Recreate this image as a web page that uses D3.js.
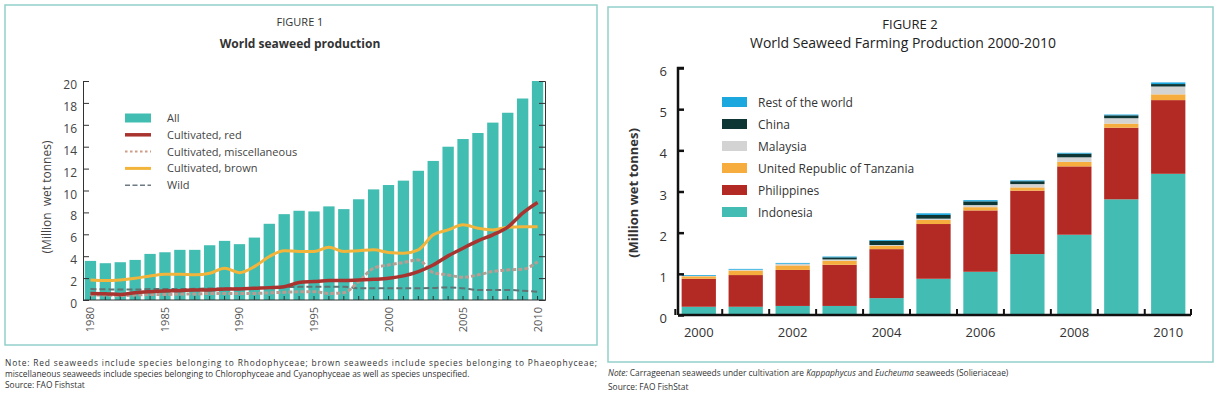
<!DOCTYPE html>
<html lang="en">
<head>
    <meta charset="UTF-8">
    <title>Seaweed production</title>
    <style>
        body { margin: 0; background: #fff; }
        svg { display: block; font-family: "Open Sans", "Noto Sans", sans-serif; }
    </style>
    <script src="https://d3js.org/d3.v7.min.js"></script>
</head>
<body>
<svg width="1219" height="397"></svg>
<script>
    // ---- Figure 1 data (million wet tonnes) ----
    const years1 = [1980, 1981, 1982, 1983, 1984, 1985, 1986, 1987, 1988, 1989,
        1990, 1991, 1992, 1993, 1994, 1995, 1996, 1997, 1998, 1999,
        2000, 2001, 2002, 2003, 2004, 2005, 2006, 2007, 2008, 2009, 2010];
    const allProd = [3.57, 3.36, 3.45, 3.66, 4.21, 4.36, 4.58, 4.58, 5.0, 5.4,
        5.1, 5.7, 6.96, 7.84, 8.15, 8.09, 8.55, 8.3, 9.2, 10.1,
        10.5, 10.9, 11.8, 12.7, 14.0, 14.7, 15.25, 16.2, 17.1, 18.4, 20.0];
    const cultRed = [0.6, 0.58, 0.5, 0.67, 0.76, 0.82, 0.85, 0.92, 0.92, 1.0,
        1.0, 1.07, 1.13, 1.22, 1.6, 1.68, 1.77, 1.77, 1.83, 1.89,
        1.98, 2.2, 2.6, 3.2, 4.03, 4.73, 5.4, 5.95, 6.65, 7.93, 8.9];
    const cultMisc = [0.45, 0.45, 0.4, 0.45, 0.5, 0.5, 0.55, 0.55, 0.6, 0.6,
        0.6, 0.6, 0.65, 0.7, 0.75, 0.76, 0.6, 0.67, 1.68, 2.9,
        3.2, 3.42, 3.66, 2.5, 2.29, 2.08, 2.29, 2.6, 2.75, 2.8, 3.5];
    const cultBrown = [1.83, 1.77, 1.83, 1.98, 2.2, 2.35, 2.35, 2.3, 2.44, 2.9,
        2.5, 3.05, 3.97, 4.5, 4.43, 4.43, 4.82, 4.43, 4.5, 4.58,
        4.34, 4.27, 4.58, 5.95, 6.4, 6.87, 6.56, 6.4, 6.65, 6.7, 6.7];
    const wild = [1.0, 0.98, 0.95, 0.95, 1.0, 1.0, 1.0, 1.02, 1.05, 1.05,
        1.08, 1.1, 1.12, 1.18, 1.2, 1.22, 1.22, 1.22, 1.07, 1.07,
        1.07, 1.07, 1.07, 1.1, 1.15, 1.07, 0.92, 0.92, 0.92, 0.85, 0.76];
    const yTicks1 = [0, 2, 4, 6, 8, 10, 12, 14, 16, 18, 20];
    const xLabels1 = [1980, 1985, 1990, 1995, 2000, 2005, 2010];

    // ---- Figure 2 data (million wet tonnes) ----
    const years2 = [2000, 2001, 2002, 2003, 2004, 2005, 2006, 2007, 2008, 2009, 2010];
    const indonesia = [0.2, 0.2, 0.22, 0.22, 0.41, 0.88, 1.05, 1.48, 1.95, 2.81, 3.43];
    const philippines = [0.68, 0.77, 0.875, 1.0, 1.19, 1.33, 1.49, 1.54, 1.66, 1.74, 1.79];
    const tanzania = [0.06, 0.11, 0.11, 0.1, 0.08, 0.1, 0.08, 0.08, 0.11, 0.1, 0.14];
    const malaysia = [0.01, 0.02, 0.04, 0.03, 0.02, 0.03, 0.05, 0.08, 0.11, 0.13, 0.19];
    const china = [0.0, 0.0, 0.0, 0.05, 0.1, 0.09, 0.09, 0.07, 0.09, 0.07, 0.06];
    const restOfWorld = [0.02, 0.02, 0.02, 0.02, 0.02, 0.04, 0.03, 0.02, 0.02, 0.02, 0.04];
    const yTicks2 = [0, 1, 2, 3, 4, 5, 6];
    const xLabels2 = [2000, 2002, 2004, 2006, 2008, 2010];

    const svg = d3.select('svg');
    const border = '#93cfca';

    // ================= FIGURE 1 =================
    const f1 = svg.append('g');
    f1.append('rect')
        .attr('x', 5).attr('y', 5).attr('width', 592).attr('height', 340)
        .attr('fill', 'none').attr('stroke', border).attr('stroke-width', 1.5);

    f1.append('text').attr('x', 300).attr('y', 26).attr('text-anchor', 'middle')
        .attr('font-size', 11).attr('fill', '#333').text('FIGURE 1');
    f1.append('text').attr('x', 300).attr('y', 48).attr('text-anchor', 'middle')
        .attr('font-size', 12).attr('font-weight', 'bold').attr('fill', '#333')
        .text('World seaweed production');

    const x1 = d3.scaleBand().domain(years1).range([83, 545]).paddingInner(0.24).paddingOuter(0.12);
    const y1 = d3.scaleLinear().domain([0, 20]).range([300, 81]);

    // bars
    f1.selectAll('rect.bar').data(years1).join('rect')
        .attr('class', 'bar')
        .attr('x', d => x1(d))
        .attr('width', x1.bandwidth())
        .attr('y', (d, i) => y1(allProd[i]))
        .attr('height', (d, i) => y1(0) - y1(allProd[i]))
        .attr('fill', '#42bdb2');

    // axes
    const axisL = f1.append('g').attr('transform', 'translate(83,0)')
        .call(d3.axisRight(y1).tickValues(yTicks1).tickSize(6).tickFormat(''));
    const axisR = f1.append('g').attr('transform', 'translate(545,0)')
        .call(d3.axisLeft(y1).tickValues(yTicks1).tickSize(6).tickFormat(''));
    const axisB = f1.append('g').attr('transform', 'translate(0,300)')
        .call(d3.axisTop(x1).tickSize(4).tickFormat(''));
    axisB.select('.domain').attr('d', 'M83,0H545');
    [axisL, axisR, axisB].forEach(a => {
        a.selectAll('path, line').attr('stroke', '#333').attr('stroke-width', 1);
    });

    f1.selectAll('text.ytick').data(yTicks1).join('text')
        .attr('class', 'ytick')
        .attr('x', 77).attr('y', d => y1(d) + 8)
        .attr('text-anchor', 'end').attr('font-size', 12).attr('fill', '#444')
        .text(d => d);

    f1.selectAll('text.xtick').data(xLabels1).join('text')
        .attr('class', 'xtick')
        .attr('transform', d => `translate(${x1(d) + x1.bandwidth() / 2 + 4},307) rotate(-90)`)
        .attr('text-anchor', 'end').attr('font-size', 11).attr('fill', '#555')
        .text(d => d);

    f1.append('text')
        .attr('transform', 'translate(51,197) rotate(-90)')
        .attr('text-anchor', 'middle').attr('font-size', 12).attr('fill', '#444')
        .attr('xml:space', 'preserve')
        .text('(Million  wet tonnes)');

    // lines
    const lineGen = values => d3.line()
        .x((d, i) => x1(years1[i]) + x1.bandwidth() / 2)
        .y(d => y1(d))
        .curve(d3.curveMonotoneX)(values);

    const series1 = [
        { name: 'Wild', values: wild, color: '#5f7372', width: 2, dash: '6,3' },
        { name: 'Cultivated, miscellaneous', values: cultMisc, color: '#b99d92', width: 3, dash: '4,2' },
        { name: 'Cultivated, brown', values: cultBrown, color: '#f3b43c', width: 3, dash: null },
        { name: 'Cultivated, red', values: cultRed, color: '#a8332f', width: 3.5, dash: null }
    ];
    series1.forEach(s => {
        f1.append('path')
            .attr('d', lineGen(s.values))
            .attr('fill', 'none')
            .attr('stroke', s.color)
            .attr('stroke-width', s.width)
            .attr('stroke-dasharray', s.dash);
    });

    // legend
    const legend1 = [
        { name: 'All', type: 'rect', color: '#42bdb2' },
        { name: 'Cultivated, red', type: 'line', color: '#a8332f', width: 3.5, dash: null },
        { name: 'Cultivated, miscellaneous', type: 'line', color: '#cf9d86', width: 2, dash: '2.5,2.5' },
        { name: 'Cultivated, brown', type: 'line', color: '#f3b43c', width: 3, dash: null },
        { name: 'Wild', type: 'line', color: '#6b7a84', width: 1.6, dash: '5,2.5' }
    ];
    const lg1 = f1.append('g');
    legend1.forEach((d, i) => {
        const yy = 118 + i * 16.8;
        if (d.type === 'rect') {
            lg1.append('rect').attr('x', 125).attr('y', yy - 4.5).attr('width', 26).attr('height', 9)
                .attr('fill', d.color);
        } else {
            lg1.append('line').attr('x1', 125).attr('x2', 151).attr('y1', yy).attr('y2', yy)
                .attr('stroke', d.color).attr('stroke-width', d.width).attr('stroke-dasharray', d.dash);
        }
        lg1.append('text').attr('x', 167).attr('y', yy + 4).attr('font-size', 11)
            .attr('fill', '#444').text(d.name);
    });

    // notes
    const notes1 = f1.append('g').attr('font-size', 8.4).attr('fill', '#333');
    notes1.append('text').attr('x', 5).attr('y', 366)
        .attr('textLength', 592).attr('lengthAdjust', 'spacing')
        .text('Note: Red seaweeds include species belonging to Rhodophyceae; brown seaweeds include species belonging to Phaeophyceae;');
    notes1.append('text').attr('x', 5).attr('y', 377)
        .text('miscellaneous seaweeds include species belonging to Chlorophyceae and Cyanophyceae as well as species unspecified.');
    notes1.append('text').attr('x', 5).attr('y', 388).text('Source: FAO Fishstat');

    // ================= FIGURE 2 =================
    const f2 = svg.append('g');
    f2.append('rect')
        .attr('x', 608).attr('y', 7).attr('width', 605).attr('height', 355)
        .attr('fill', 'none').attr('stroke', border).attr('stroke-width', 1.5);

    f2.append('text').attr('x', 910).attr('y', 29).attr('text-anchor', 'middle')
        .attr('font-size', 13).attr('fill', '#222').text('FIGURE 2');
    f2.append('text').attr('x', 903).attr('y', 48).attr('text-anchor', 'middle')
        .attr('font-size', 14).attr('fill', '#222')
        .text('World Seaweed Farming Production 2000-2010');

    const keys2 = ['Indonesia', 'Philippines', 'United Republic of Tanzania', 'Malaysia', 'China', 'Rest of the world'];
    const values2 = [indonesia, philippines, tanzania, malaysia, china, restOfWorld];
    const colors2 = ['#43bdb4', '#b32a24', '#f6ad3d', '#d3d3d3', '#0e3634', '#1ba8df'];

    const rows2 = years2.map((yr, i) => {
        const r = { year: yr };
        keys2.forEach((k, j) => { r[k] = values2[j][i]; });
        return r;
    });
    const stacked = d3.stack().keys(keys2)(rows2);

    const x2 = d3.scaleBand().domain(years2).range([676, 1191]).paddingInner(0.27).paddingOuter(0.12);
    const y2 = d3.scaleLinear().domain([0, 6]).range([315, 68]);

    f2.selectAll('g.layer').data(stacked).join('g')
        .attr('class', 'layer')
        .attr('fill', (d, i) => colors2[i])
        .selectAll('rect').data(d => d).join('rect')
        .attr('x', d => x2(d.data.year))
        .attr('width', x2.bandwidth())
        .attr('y', d => y2(d[1]))
        .attr('height', d => y2(d[0]) - y2(d[1]));

    const axisL2 = f2.append('g').attr('transform', 'translate(678,0)')
        .call(d3.axisRight(y2).tickValues(yTicks2).tickSize(6).tickFormat(''));
    axisL2.select('.domain').attr('d', 'M6,68H0V315');
    const bounds2 = years2.map(d => x2(d) - x2.step() * x2.paddingInner() / 2).concat([1191]);
    const axisB2 = f2.append('g').attr('transform', 'translate(0,315)');
    axisB2.append('path').attr('d', 'M678,0H1191').attr('stroke', '#111').attr('stroke-width', 2.5);
    axisB2.selectAll('line').data(bounds2).join('line')
        .attr('x1', d => d).attr('x2', d => d).attr('y1', 0).attr('y2', -6)
        .attr('stroke', '#111').attr('stroke-width', 2);
    axisL2.selectAll('path, line').attr('stroke', '#111').attr('stroke-width', 2.5);

    f2.selectAll('text.ytick').data(yTicks2).join('text')
        .attr('class', 'ytick')
        .attr('x', 667).attr('y', d => y2(d) + 8)
        .attr('text-anchor', 'end').attr('font-size', 13).attr('fill', '#333')
        .text(d => d);

    f2.selectAll('text.xtick').data(xLabels2).join('text')
        .attr('class', 'xtick')
        .attr('x', d => x2(d) + x2.bandwidth() / 2).attr('y', 337)
        .attr('text-anchor', 'middle').attr('font-size', 13).attr('fill', '#333')
        .text(d => d);

    f2.append('text')
        .attr('transform', 'translate(638,193) rotate(-90)')
        .attr('text-anchor', 'middle').attr('font-size', 13).attr('font-weight', 'bold').attr('fill', '#333')
        .text('(Million wet tonnes)');

    // legend (top to bottom: rest of world ... indonesia)
    const lg2 = f2.append('g');
    keys2.slice().reverse().forEach((k, i) => {
        const ci = keys2.length - 1 - i;
        const yy = 102 + i * 22;
        lg2.append('rect').attr('x', 722).attr('y', yy - 5).attr('width', 25).attr('height', 10)
            .attr('fill', colors2[ci]);
        lg2.append('text').attr('x', 758).attr('y', yy + 4.5).attr('font-size', 12)
            .attr('fill', '#333').text(k);
    });

    // notes
    const notes2 = f2.append('g').attr('font-size', 8.4).attr('fill', '#333');
    const n2 = notes2.append('text').attr('x', 608).attr('y', 376);
    n2.append('tspan').attr('font-style', 'italic').text('Note:');
    n2.append('tspan').text(' Carrageenan seaweeds under cultivation are ');
    n2.append('tspan').attr('font-style', 'italic').text('Kappaphycus');
    n2.append('tspan').text(' and ');
    n2.append('tspan').attr('font-style', 'italic').text('Eucheuma');
    n2.append('tspan').text(' seaweeds (Solieriaceae)');
    notes2.append('text').attr('x', 608).attr('y', 390).text('Source: FAO FishStat');
</script>
</body>
</html>
